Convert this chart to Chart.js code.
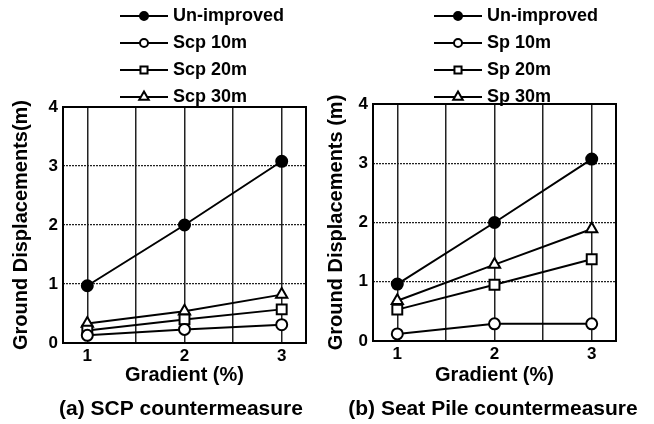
<!DOCTYPE html>
<html>
<head>
<meta charset="utf-8">
<script src="https://cdn.jsdelivr.net/npm/chart.js@4"></script>
<style>
  body { margin: 0; background: #fff; }
  #wrap { position: relative; width: 654px; height: 424px; }
  .panel { position: absolute; top: 0; height: 424px; }
</style>
</head>
<body>
<div id="wrap">
  <div class="panel" style="left:0;width:320px"><canvas id="chartA"></canvas></div>
  <div class="panel" style="left:320px;width:334px"><canvas id="chartB"></canvas></div>
</div>
<script>
// data
const gradients = [1, 2, 3]
const xGrid = [1, 1.5, 2, 2.5, 3]
const yTicks = [0, 1, 2, 3, 4]

const scpNames = ['Un-improved', 'Scp 10m', 'Scp 20m', 'Scp 30m']
const scpUnimproved = [0.97, 2.0, 3.08]
const scp10 = [0.13, 0.23, 0.31]
const scp20 = [0.21, 0.40, 0.57]
const scp30 = [0.33, 0.54, 0.82]

const spNames = ['Un-improved', 'Sp 10m', 'Sp 20m', 'Sp 30m']
const spUnimproved = [0.96, 2.0, 3.07]
const sp10 = [0.12, 0.29, 0.29]
const sp20 = [0.53, 0.95, 1.38]
const sp30 = [0.68, 1.29, 1.89]

const FONT = "'Liberation Sans', Arial, sans-serif"
const styles = [
  { pointStyle: 'circle', radius: 5.5, fill: '#000', legR: 4 },
  { pointStyle: 'circle', radius: 5.5, fill: '#fff', legR: 4 },
  { pointStyle: 'rect', radius: 7, fill: '#fff', legR: 5 },
  { pointStyle: 'triangle', radius: 6.5, fill: '#fff', legR: 5.5 }
]

function makeSets(names, series) {
  return series.map((vals, i) => ({
    label: names[i],
    data: vals.map((v, j) => ({ x: gradients[j], y: v })),
    borderColor: '#000',
    borderWidth: 2,
    pointStyle: styles[i].pointStyle,
    pointRadius: styles[i].radius,
    pointBackgroundColor: styles[i].fill,
    pointBorderColor: '#000',
    pointBorderWidth: 2,
    legR: styles[i].legR
  }))
}

// frame round the plot, line-with-marker legend and the caption
const framePlugin = {
  id: 'frame',
  afterDraw(chart, args, opts) {
    const c = chart.ctx
    const a = chart.chartArea
    c.save()
    c.strokeStyle = '#000'
    c.lineWidth = 2
    c.strokeRect(a.left, a.top, a.right - a.left, a.bottom - a.top)
    chart.data.datasets.forEach((ds, i) => {
      const y = opts.rowY + i * opts.rowGap
      c.strokeStyle = '#000'
      c.lineWidth = 2
      c.beginPath()
      c.moveTo(opts.lx, y)
      c.lineTo(opts.lx + 48, y)
      c.stroke()
      c.fillStyle = ds.pointBackgroundColor
      Chart.helpers.drawPoint(c, {
        pointStyle: ds.pointStyle, radius: ds.legR, borderWidth: 2
      }, opts.lx + 24, y)
      c.fillStyle = '#000'
      c.font = 'bold 18px ' + FONT
      c.textAlign = 'left'
      c.textBaseline = 'middle'
      c.fillText(ds.label, opts.lx + 53, y)
    })
    c.font = 'bold 21px ' + FONT
    c.textAlign = 'center'
    c.fillText(opts.caption, opts.capX, 409)
    c.restore()
  }
}

function makeChart(id, names, series, cfg) {
  const sets = makeSets(names, series)
  return new Chart(document.getElementById(id), {
    type: 'line',
    data: { datasets: sets },
    plugins: [framePlugin],
    options: {
      responsive: true,
      maintainAspectRatio: false,
      animation: false,
      layout: { padding: { top: cfg.top, right: cfg.right, left: 0, bottom: 0 } },
      plugins: {
        legend: { display: false },
        tooltip: { enabled: false },
        frame: { lx: cfg.lx, rowY: 16, rowGap: 27, caption: cfg.caption, capX: cfg.capX }
      },
      scales: {
        x: {
          type: 'linear',
          min: 0.75,
          max: 3.25,
          afterBuildTicks: (s) => { s.ticks = xGrid.map(v => ({ value: v })) },
          afterFit: (s) => { s.height = cfg.xh },
          grid: { color: '#222', lineWidth: 1.5, drawTicks: false },
          border: { display: false },
          ticks: {
            autoSkip: false, maxRotation: 0, padding: 3, color: '#000',
            font: { family: FONT, size: 17, weight: 'bold' },
            callback: (v) => (v % 1 === 0 ? v : '')
          },
          title: {
            display: true, text: 'Gradient (%)', color: '#000',
            font: { family: FONT, size: 20, weight: 'bold' },
            padding: { top: 0, bottom: 37 }
          }
        },
        y: {
          min: 0,
          max: 4,
          afterBuildTicks: (s) => { s.ticks = yTicks.map(v => ({ value: v })) },
          afterFit: (s) => { s.width = cfg.yw },
          grid: { color: '#222', lineWidth: 1.3, drawTicks: false },
          border: { display: false, dash: [2, 1] },
          ticks: {
            padding: 5, color: '#000',
            font: { family: FONT, size: 17, weight: 'bold' }
          },
          title: {
            display: true, text: cfg.ytitle, color: '#000',
            font: { family: FONT, size: 20, weight: 'bold' },
            padding: { top: cfg.ypad, bottom: 0 }
          }
        }
      }
    }
  })
}

makeChart('chartA', scpNames, [scpUnimproved, scp10, scp20, scp30], {
  top: 107, right: 14, yw: 63, xh: 81, lx: 120, ypad: 9, capX: 181,
  caption: '(a) SCP countermeasure', ytitle: 'Ground Displacements(m)'
})
makeChart('chartB', spNames, [spUnimproved, sp10, sp20, sp30], {
  top: 104, right: 38, yw: 53, xh: 83, lx: 114, ypad: 4, capX: 173,
  caption: '(b) Seat Pile countermeasure', ytitle: 'Ground Displacements (m)'
})
</script>
</body>
</html>
